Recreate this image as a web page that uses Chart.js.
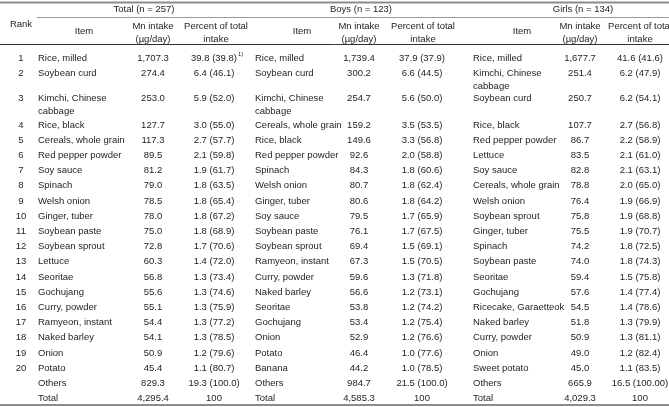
<!DOCTYPE html>
<html>
<head>
<meta charset="utf-8">
<script src="https://cdn.jsdelivr.net/npm/chart.js@4/dist/chart.umd.min.js"></script>
<style>
  html, body { margin: 0; padding: 0; background: #ffffff; }
  #c { display: block; }
</style>
</head>
<body>
<canvas id="c" width="669" height="407"></canvas>
<script>
// ---------------- DATA ----------------
const ranks = ['1','2','3','4','5','6','7','8','9','10','11','12','13','14','15','16','17','18','19','20','',''];

const groupTitles = ['Total (n = 257)', 'Boys (n = 123)', 'Girls (n = 134)'];
const colHeaders = ['Item', 'Mn intake\n(\u00b5g/day)', 'Percent of total\nintake'];

const totalItems = ['Rice, milled','Soybean curd','Kimchi, Chinese\ncabbage','Rice, black','Cereals, whole grain','Red pepper powder','Soy sauce','Spinach','Welsh onion','Ginger, tuber','Soybean paste','Soybean sprout','Lettuce','Seoritae','Gochujang','Curry, powder','Ramyeon, instant','Naked barley','Onion','Potato','Others','Total'];
const totalMn = [1707.3, 274.4, 253.0, 127.7, 117.3, 89.5, 81.2, 79.0, 78.5, 78.0, 75.0, 72.8, 60.3, 56.8, 55.6, 55.1, 54.4, 54.1, 50.9, 45.4, 829.3, 4295.4];
const totalPct = [39.8, 6.4, 5.9, 3.0, 2.7, 2.1, 1.9, 1.8, 1.8, 1.8, 1.8, 1.7, 1.4, 1.3, 1.3, 1.3, 1.3, 1.3, 1.2, 1.1, 19.3, 100];
const totalCum = ['39.8','46.1','52.0','55.0','57.7','59.8','61.7','63.5','65.4','67.2','68.9','70.6','72.0','73.4','74.6','75.9','77.2','78.5','79.6','80.7','100.0',''];

const boysItems = ['Rice, milled','Soybean curd','Kimchi, Chinese\ncabbage','Cereals, whole grain','Rice, black','Red pepper powder','Spinach','Welsh onion','Ginger, tuber','Soy sauce','Soybean paste','Soybean sprout','Ramyeon, instant','Curry, powder','Naked barley','Seoritae','Gochujang','Onion','Potato','Banana','Others','Total'];
const boysMn = [1739.4, 300.2, 254.7, 159.2, 149.6, 92.6, 84.3, 80.7, 80.6, 79.5, 76.1, 69.4, 67.3, 59.6, 56.6, 53.8, 53.4, 52.9, 46.4, 44.2, 984.7, 4585.3];
const boysPct = [37.9, 6.6, 5.6, 3.5, 3.3, 2.0, 1.8, 1.8, 1.8, 1.7, 1.7, 1.5, 1.5, 1.3, 1.2, 1.2, 1.2, 1.2, 1.0, 1.0, 21.5, 100];
const boysCum = ['37.9','44.5','50.0','53.5','56.8','58.8','60.6','62.4','64.2','65.9','67.5','69.1','70.5','71.8','73.1','74.2','75.4','76.6','77.6','78.5','100.0',''];

const girlsItems = ['Rice, milled','Kimchi, Chinese\ncabbage','Soybean curd','Rice, black','Red pepper powder','Lettuce','Soy sauce','Cereals, whole grain','Welsh onion','Soybean sprout','Ginger, tuber','Spinach','Soybean paste','Seoritae','Gochujang','Ricecake, Garaetteok','Naked barley','Curry, powder','Onion','Sweet potato','Others','Total'];
const girlsMn = [1677.7, 251.4, 250.7, 107.7, 86.7, 83.5, 82.8, 78.8, 76.4, 75.8, 75.5, 74.2, 74.0, 59.4, 57.6, 54.5, 51.8, 50.9, 49.0, 45.0, 665.9, 4029.3];
const girlsPct = [41.6, 6.2, 6.2, 2.7, 2.2, 2.1, 2.1, 2.0, 1.9, 1.9, 1.9, 1.8, 1.8, 1.5, 1.4, 1.4, 1.3, 1.3, 1.2, 1.1, 16.5, 100];
const girlsCum = ['41.6','47.9','54.1','56.8','58.9','61.0','63.1','65.0','66.9','68.8','70.7','72.5','74.3','75.8','77.4','78.6','79.9','81.1','82.4','83.5','100.00',''];

const footnoteMark = '1)';

// ---------------- LAYOUT ----------------
const W = 669, H = 407;
const FONT = '"Liberation Sans", Arial, Helvetica, sans-serif';
const FS = 9.5;
const LINE = 13;            // line spacing inside a wrapped cell
const rankX = 21;
const groups = [
  { title: groupTitles[0], items: totalItems, mn: totalMn, pct: totalPct, cum: totalCum, titleX: 144, itemX: 38,  itemHX: 84,  mnX: 153, pctX: 214, pctHX: 216 },
  { title: groupTitles[1], items: boysItems,  mn: boysMn,  pct: boysPct,  cum: boysCum,  titleX: 361, itemX: 255, itemHX: 302, mnX: 359, pctX: 422, pctHX: 423 },
  { title: groupTitles[2], items: girlsItems, mn: girlsMn, pct: girlsPct, cum: girlsCum, titleX: 583, itemX: 473, itemHX: 522, mnX: 580, pctX: 640, pctHX: 640 }
];
// row text positions (first line of each row)
const rowY = [];
(function(){
  const fixed = [58, 73, 98];
  for (let i = 0; i < 3; i++) rowY.push(fixed[i]);
  const start = 125, step = 15.2;
  for (let i = 3; i < ranks.length; i++) rowY.push(start + (i - 3) * step);
})();

function fmtMn(v){ return v.toLocaleString('en-US', {minimumFractionDigits:1, maximumFractionDigits:1}); }
function fmtPct(p, c){ return c === '' ? String(p) : p.toFixed(1) + ' (' + c + ')'; }

const tablePlugin = {
  id: 'tablePlugin',
  afterDraw(chart){
    const ctx = chart.ctx;
    const xs = chart.scales.x, ys = chart.scales.y;
    const px = v => xs.getPixelForValue(v);
    const py = v => ys.getPixelForValue(v);
    ctx.save();
    // rules
    function hline(x0, x1, y, w, col){
      ctx.beginPath();
      ctx.strokeStyle = col; ctx.lineWidth = w;
      ctx.moveTo(px(x0), py(y)); ctx.lineTo(px(x1), py(y)); ctx.stroke();
    }
    hline(0, W, 2.5, 2, '#8c8c8c');
    hline(37, W, 17.5, 1, '#9a9a9a');
    hline(0, W, 44.5, 1, '#333333');
    hline(0, W, 405, 2, '#8c8c8c');

    ctx.fillStyle = '#1e1e1e';
    ctx.font = FS + 'px ' + FONT;
    ctx.textBaseline = 'middle';

    function text(str, x, y, align){
      const lines = String(str).split('\n');
      ctx.textAlign = align;
      lines.forEach((ln, k) => ctx.fillText(ln, px(x), py(y + k * LINE)));
    }
    // header
    text('Rank', rankX, 24, 'center');
    groups.forEach(g => {
      text(g.title, g.titleX, 9.5, 'center');
      text(colHeaders[0], g.itemHX, 31.5, 'center');
      text(colHeaders[1], g.mnX, 26, 'center');
      text(colHeaders[2], g.pctHX, 26, 'center');
    });
    // body
    ranks.forEach((r, i) => {
      const y = rowY[i];
      if (r) text(r, rankX, y, 'center');
      groups.forEach(g => {
        text(g.items[i], g.itemX, y, 'left');
        text(fmtMn(g.mn[i]), g.mnX, y, 'center');
        text(fmtPct(g.pct[i], g.cum[i]), g.pctX, y, 'center');
      });
    });
    // footnote mark after first Total percent
    const g0 = groups[0];
    const s0 = fmtPct(g0.pct[0], g0.cum[0]);
    const wid = ctx.measureText(s0).width;
    ctx.font = '6px ' + FONT;
    ctx.textAlign = 'left';
    ctx.fillText(footnoteMark, px(g0.pctX) + wid / 2 + 1, py(rowY[0] - 4));
    ctx.restore();
  }
};

new Chart(document.getElementById('c'), {
  type: 'scatter',
  data: { datasets: [{ data: [], pointRadius: 0 }] },
  options: {
    responsive: false,
    animation: false,
    devicePixelRatio: 1,
    events: [],
    layout: { padding: 0 },
    plugins: { legend: { display: false }, tooltip: { enabled: false } },
    scales: {
      x: { type: 'linear', min: 0, max: W, display: false },
      y: { type: 'linear', min: 0, max: H, reverse: true, display: false }
    }
  },
  plugins: [tablePlugin]
});
</script>
</body>
</html>
